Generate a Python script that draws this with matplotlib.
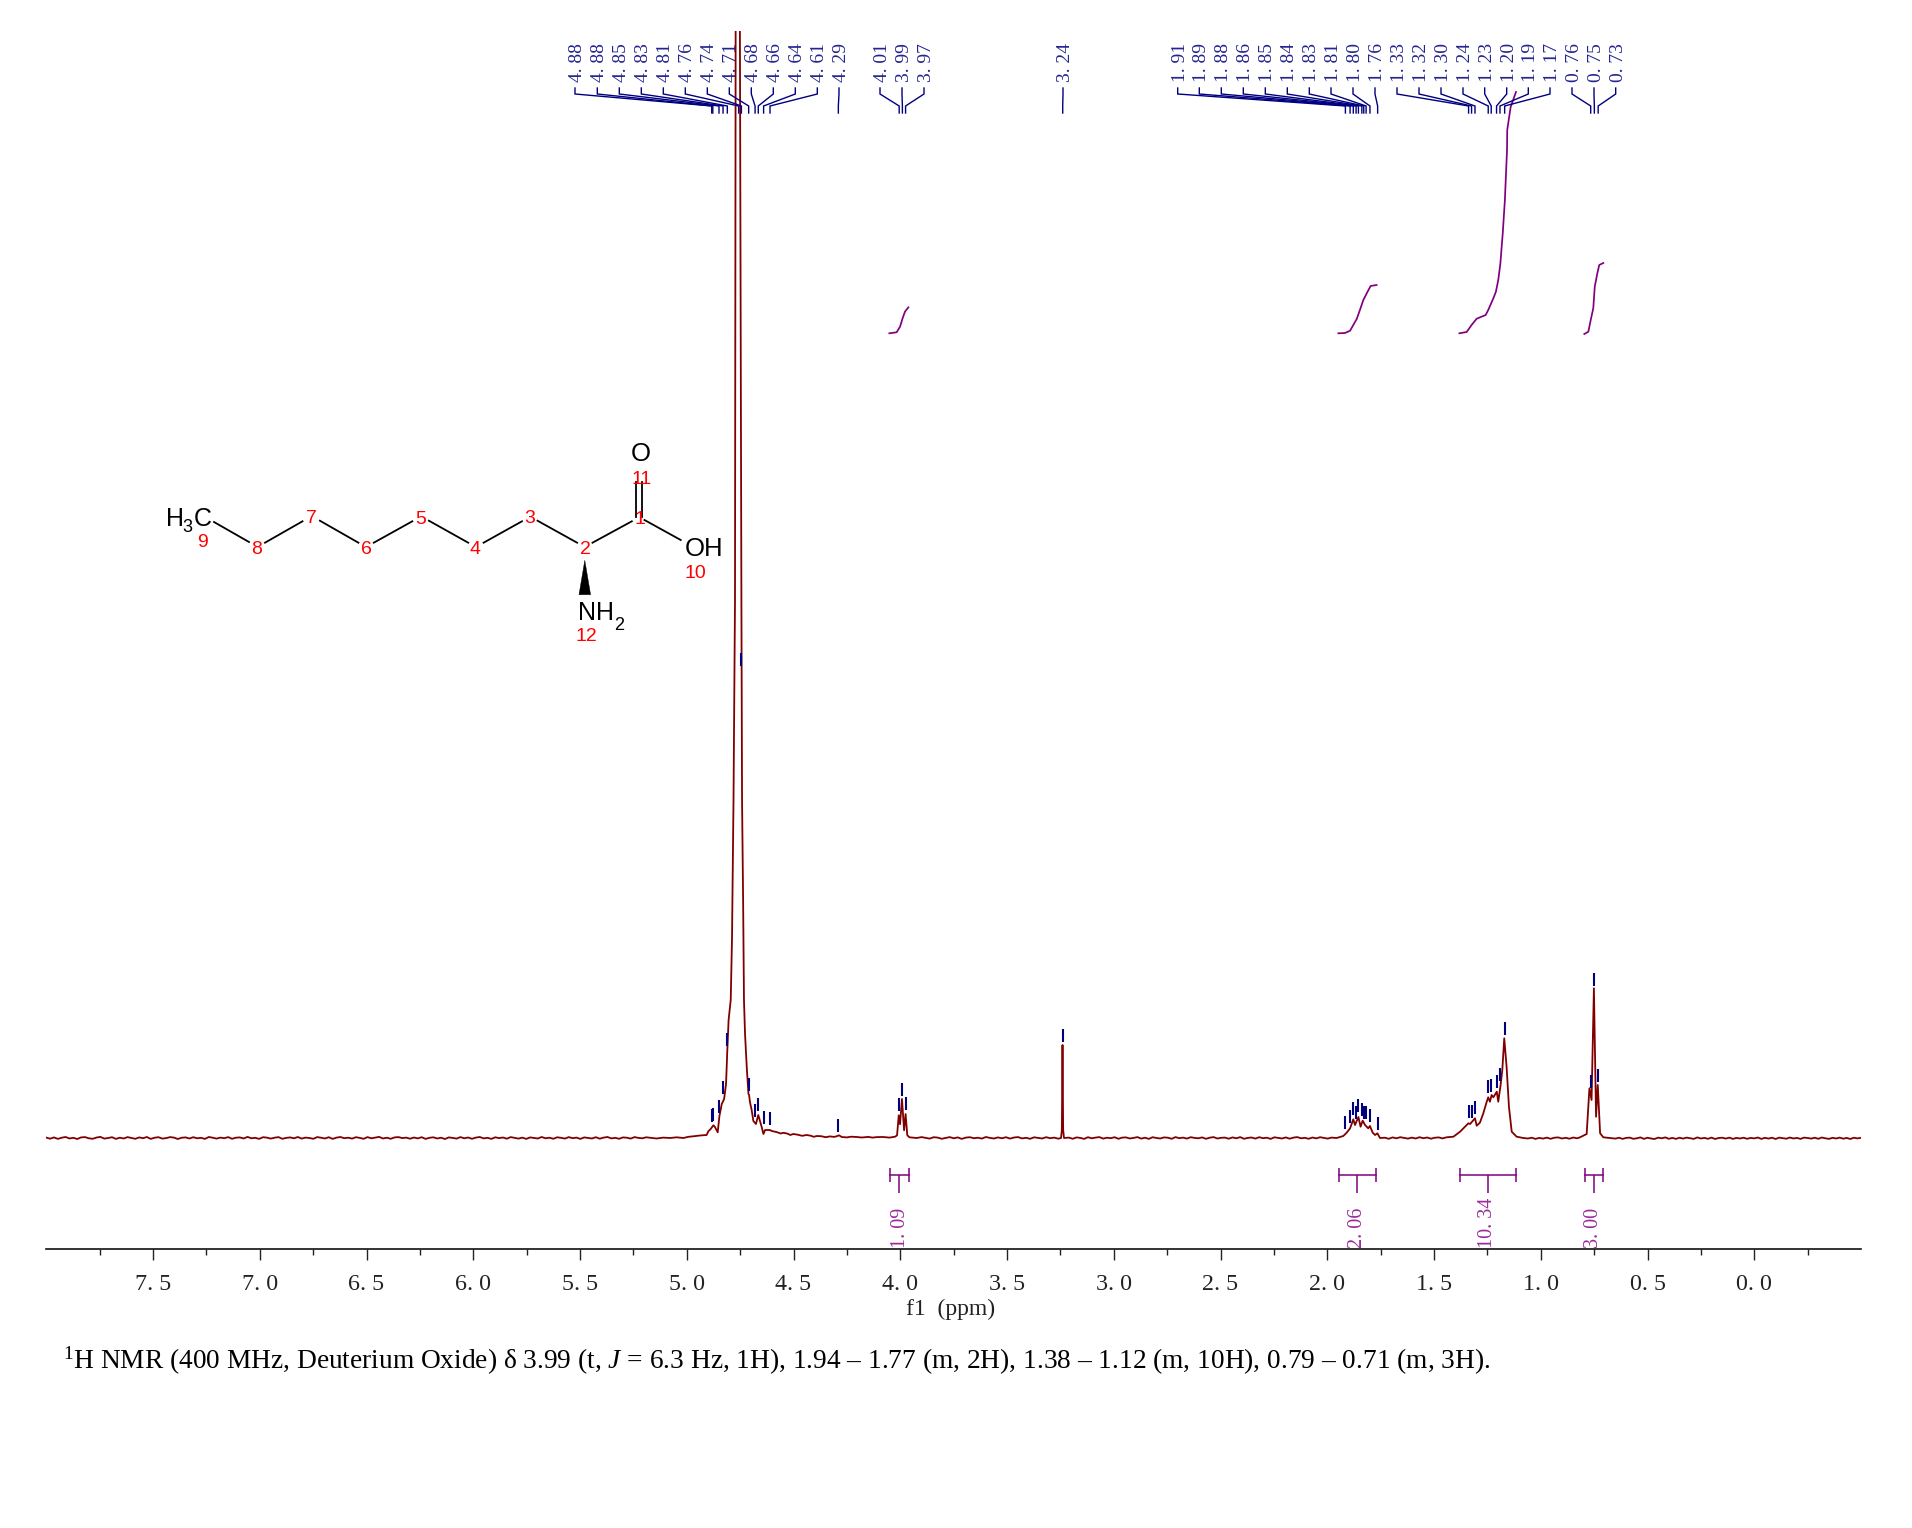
import numpy as np
import matplotlib
matplotlib.use("Agg")
import matplotlib.pyplot as plt
from matplotlib.patches import Polygon

plt.rcParams["font.family"] = ["Liberation Serif", "DejaVu Serif"]
plt.rcParams["mathtext.fontset"] = "custom"
plt.rcParams["mathtext.rm"] = "Liberation Serif"
plt.rcParams["mathtext.it"] = "Liberation Serif:italic"

# ---------- spectrum: (ppm, intensity) ----------
noise_far_left = [0.4,-0.7,0.6,-0.9,0.3,1.0,-0.5,0.2,-1.0,0.6,0.9,-0.3,-0.8,0.5,1.1,-0.6,0.0,0.8,-0.9,0.3,
                  -0.5,0.9,0.1,-0.8,0.6,-0.2,1.0,-0.9,0.3,0.8,-0.6,-0.1,0.9,0.4,-1.0,0.3,0.6,-0.5,0.8,-0.3,
                  0.2,-0.9,1.0,0.3,-0.6,0.4,-0.2,0.9,-0.8,0.3,0.6,-0.5,1.1,-0.3,0.2,-0.9,0.8,0.4,-0.6,0.3,
                  0.9,-0.8,0.1,0.6,-0.3,1.0,-0.6,0.4,0.0,-0.8,0.9,0.3,-0.5,0.8,-0.9,0.4,1.0,-0.2,0.3,-0.6,
                  0.8,0.1,-0.8,0.9,-0.3,0.4,1.1,-0.5,0.3,-0.8,0.6,0.9,-0.1,0.4,-0.7,0.5,-0.4,0.8,-0.9,0.2,
                  0.7,-0.5,0.3,-1.0,0.6,0.1,-0.6,0.9,-0.3,0.5,-0.8,0.4,1.0,-0.4,0.2,-0.9,0.7,-0.1,0.5,-0.7,
                  0.9,0.2,-0.6,0.4,-0.9,0.6,0.0,-0.5,1.0,-0.3,0.3,-0.8,0.7,0.2,-0.6,0.9,-0.2,0.4,-0.9,0.6,
                  0.1,-0.5,0.8,-0.7,0.4,1.0,-0.4,0.2,-0.8,0.6,0.3,-0.6,0.9,0.1,-0.3,0.7]
noise_mid_a = [0.9,0.2,-0.6,0.8,0.4,-0.8,0.1,0.9,-0.3,0.6,-0.9,0.4,0.8,-0.2,0.3,-0.6,1.0,0.1,-0.5,0.6,-0.3,0.8,
               -0.6,0.5,0.9,-0.4,0.2,-0.8,0.7,0.1,-0.5,0.8,-0.2,0.4,-0.7]
noise_mid_b = [0.4,-0.8,0.6,0.1,-0.9,0.8,-0.3,0.4,0.9,-0.6,0.3,-0.2,0.8,-0.8,0.4,0.6,-0.5,0.1,0.9,-0.6,
               0.3,-0.9,0.8,0.0,-0.5,0.6,0.3,-0.8,0.9,-0.2,0.4,-0.6,0.8,0.1,-0.3,0.6,-0.8,0.3,0.9,-0.5,
               0.2,0.4,-0.7,0.6,-0.3,0.9,-0.8,0.1,0.5,-0.6,0.8,-0.2,0.3,-0.9,0.7,0.1,-0.5,0.6,-0.7,0.4,
               0.9,-0.3,0.2,-0.8,0.5,-0.4,0.8,0.1,-0.6,0.4]
noise_gap_a = [0.3,-0.8,0.6,-0.3,0.8,0.1,-0.6,0.4,-0.5,0.8,-0.2,0.5,-0.7,0.3,0.6,-0.4]
noise_gap_b = [-0.5,0.3,-0.9,0.1,-0.6,0.4,-0.8,0.3,0.6,-0.5,0.2,-0.7,0.5,-0.3]
noise_right = [-0.6,0.3,-0.9,0.1,0.4,-0.8,-0.3,0.6,-0.9,0.3,-0.5,-1.0,0.4,-0.3,0.6,-0.8,0.1,-0.9,0.3,-0.6,
               0.4,-0.2,-0.9,0.6,-0.5,0.1,-0.8,0.4,-1.0,0.0,0.3,-0.6,0.4,-0.9,0.1,-0.5,0.3,-0.8,0.1,-0.4,
               0.5,-0.9,0.2,-0.6,0.3,-1.0,0.4,-0.2,-0.7,0.5,-0.5,0.1,-0.9,0.4,0.0,-0.6,0.3,-0.8,0.5,-0.3,
               -0.9,0.2,-0.5,0.4,-0.7,0.1,-1.0,0.3,-0.4,0.2]

water_ppm = [5.172,5.141,5.110,5.078,5.047,5.016,4.992,4.969,4.938,4.907,4.899,4.888,4.875,4.868,4.855,4.847,
             4.836,4.825,4.816,4.810,4.804,4.794,4.788,4.781,4.774,4.771,4.762,4.751,4.744,4.741,4.736,4.732,4.727,4.719,
             4.711,4.708,4.704,4.696,4.688,4.676,4.665,4.649,4.641,4.633,4.610,4.602,4.58,4.56,4.548,4.53,4.515,4.501,4.48,4.46,4.438,
             4.42,4.405,4.391,4.37,4.35,4.329,4.31,4.298,4.287,4.274,4.25,4.23,4.204,4.18,4.15,4.13,4.110,4.08,4.05,
             4.024,4.015,4.007,4.001,3.992,3.982,3.975,3.967,3.957,3.923]
water_int = [0.3,-0.5,0.4,0,0.7,0,1.2,1.7,2.5,3,6.7,9,12.7,11,5.7,22,
             34,39,54,88,118,138,200,338,538,1107,1500,1107,538,338,238,138,104,71,
             44,43,36,28,17,14,23,11,4,8,8,7,6,4.5,5.2,4.5,3,4,3.3,2.2,3,
             2.3,1.2,2,1.8,0.8,1.6,1.1,1.7,2.7,1,0.6,1.3,1,0.5,1.1,0.4,0.9,1,0.4,
             1.3,2.7,22.7,13.7,39,7.7,24,2.7,0.7,0]
solvent_ppm = [3.247,3.243,3.240,3.237,3.233]
solvent_int = [0,8,93,8,0]
hump_a_ppm = [1.956,1.925,1.909,1.893,1.878,1.870,1.854,1.844,1.834,1.823,1.808,1.800,1.787,1.776,1.765,1.753]
hump_a_int = [0,2,5.3,9.7,18.7,13,21,11.3,17.3,13,9.7,12,5.3,3,4.7,0]
hump_b_ppm = [1.441,1.409,1.378,1.339,1.331,1.308,1.300,1.285,1.269,1.253,1.246,1.238,1.230,1.222,1.206,1.199,
              1.188,1.180,1.171,1.160,1.149,1.136,1.113,1.082]
hump_b_int = [0.7,1.3,6.3,14.7,14,19.7,12.3,15.3,24.7,36.3,40.7,36.3,43,40.7,46.3,36.3,
              53,68,99.7,71.3,31.3,6.3,1.3,0]
methyl_ppm = [0.816,0.785,0.772,0.762,0.751,0.741,0.733,0.722,0.707,0.676]
methyl_int = [0.7,4,49.7,38,149.7,21.3,53,4.7,0.7,0]

# ---------- peak picks ----------
peak_labels = ["4. 88","4. 88","4. 85","4. 83","4. 81","4. 76","4. 74","4. 71","4. 68","4. 66","4. 64","4. 61","4. 29",
               "4. 01","3. 99","3. 97","3. 24",
               "1. 91","1. 89","1. 88","1. 86","1. 85","1. 84","1. 83","1. 81","1. 80","1. 76",
               "1. 33","1. 32","1. 30","1. 24","1. 23","1. 20","1. 19","1. 17","0. 76","0. 75","0. 73"]
peak_ppm = [4.883,4.878,4.849,4.830,4.810,4.757,4.744,4.710,4.680,4.665,4.640,4.610,4.290,
            4.005,3.990,3.975,3.239,
            1.915,1.893,1.878,1.865,1.854,1.838,1.829,1.818,1.800,1.764,
            1.338,1.324,1.308,1.246,1.232,1.207,1.191,1.169,0.766,0.749,0.731]
peak_tick_low = [16,17,25,44,92,1200,472,47,21,27,14,13,6,
                 27,42,28,96,
                 8.7,14.7,23,18.7,25.7,22.3,18.7,18.7,16.3,8,
                 20,20,24,45,46,50,57,103,50,152,56]
label_x_px = [575,597.3,619.3,641.3,663.3,685.3,707.3,729.3,751.3,773.3,795.3,817.3,839,
              880,902,924,1063,
              1177.7,1199.3,1221.3,1243.3,1265.3,1287.3,1309.3,1331,1353,1375,
              1397,1419,1441,1463,1484.7,1506.7,1528.3,1550,1572,1594,1615.7]

# ---------- integrals ----------
int_left = [4.050,1.947,1.378,0.793]
int_right = [3.959,1.772,1.117,0.707]
int_stem = [4.004,1.859,1.249,0.749]
int_text_ppm = [3.998,1.856,1.249,0.752]
int_text = ["1. 09","2. 06","10. 34","3. 00"]
curve1_ppm = [4.051,4.017,4.001,3.989,3.978,3.962]
curve1_int = [804.7,805.7,811.3,819.7,826.3,830.7]
curve2_ppm = [1.948,1.917,1.893,1.878,1.862,1.847,1.831,1.815,1.797,1.769]
curve2_int = [804.7,805,807.3,813,819,828,838,844.7,852,853]
curve3_ppm = [1.381,1.347,1.324,1.300,1.258,1.246,1.222,1.210,1.199,1.189,1.183,1.178,1.168,1.158,1.157,1.141,1.116]
curve3_int = [804.7,806,813,819.3,823,828,839.7,846.3,858,874.7,891.3,904.7,938,988,1008,1031,1046]
curve4_ppm = [0.796,0.777,0.766,0.754,0.747,0.735,0.726,0.707]
curve4_int = [804,806.3,818,829.7,851.3,864.7,873,875]

major_ticks = [7.5,7.0,6.5,6.0,5.5,5.0,4.5,4.0,3.5,3.0,2.5,2.0,1.5,1.0,0.5,0.0]
minor_ticks = [7.75,7.25,6.75,6.25,5.75,5.25,4.75,4.25,3.75,3.25,2.75,2.25,1.75,1.25,0.75,0.25,-0.25]
major_labels = ["7. 5","7. 0","6. 5","6. 0","5. 5","5. 0","4. 5","4. 0","3. 5","3. 0","2. 5","2. 0","1. 5","1. 0","0. 5","0. 0"]

caption = (r"$^{1}$H NMR (400 MHz, Deuterium Oxide) δ 3.99 (t, $\mathit{J}$ = 6.3 Hz, 1H), 1.94 – 1.77 (m, 2H), "
           r"1.38 – 1.12 (m, 10H), 0.79 – 0.71 (m, 3H).")

# ---------- structure drawing (figure pixels) ----------
struct_dx, struct_dy = -3, 2
bonds = [((217,520),(252,540)),((268,540.7),(305.5,519.3)),((322.9,518.7),(361.4,540.7)),
         ((376.8,540.7),(415.3,519.3)),((431.9,518.7),(471.2,540.7)),((486.6,540.7),(525,519.3)),
         ((540.5,518.7),(580.1,540.7)),((595.5,540.7),(634.8,519.3)),((647.5,518),(683.7,538)),
         ((639,480),(639,515)),((645.2,480),(645.2,515))]
wedge = [(587.8,558.3),(582,592.7),(593.6,592.7)]
atom_parts = [("H",169,517,18,"left","center"),("3",185.5,525,13,"left","center"),("C",197,517,18,"left","center"),
              ("O",643.7,452,18.5,"center","center"),("OH",688,547.5,18.5,"left","center"),
              ("NH",581,611.5,18,"left","center"),("2",617,623,13,"left","center")]
atom_numbers = [("9",205.5,540.7),("8",260,547.7),("7",314.4,516.7),("6",369,547.7),("5",423.8,517.3),
                ("4",478,547.7),("3",532.8,516.7),("2",588.6,547.7),("1",642.9,517.3),("11",644.4,477.3),
                ("10",698.3,571.7),("12",589.4,634.3)]

# ---------- build ----------
W, H = 1912, 1528
fig = plt.figure(figsize=(W/100, H/100), dpi=100, facecolor="white")
ax_left, ax_right, ax_top, ax_bottom = 46.25, 1861, 31, 1249
ax = fig.add_axes([ax_left/W, 1-ax_bottom/H, (ax_right-ax_left)/W, (ax_bottom-ax_top)/H])
ax.set_xlim(8.0, -0.5)
ax.set_ylim(-111, 1107)
ax.patch.set_alpha(0)

ppm = np.concatenate([np.linspace(8.0, 5.19, len(noise_far_left)), water_ppm,
                      np.linspace(3.90, 3.26, len(noise_mid_a)), solvent_ppm,
                      np.linspace(3.21, 1.98, len(noise_mid_b)), hump_a_ppm,
                      np.linspace(1.73, 1.46, len(noise_gap_a)), hump_b_ppm,
                      np.linspace(1.06, 0.83, len(noise_gap_b)), methyl_ppm,
                      np.linspace(0.65, -0.5, len(noise_right))])
intensity = np.concatenate([noise_far_left, water_int, noise_mid_a, solvent_int, noise_mid_b, hump_a_int,
                            noise_gap_a, hump_b_int, noise_gap_b, methyl_int, noise_right])
ax.plot(ppm, intensity, color="#800000", lw=1.3, solid_joinstyle="round", zorder=3)

navy = "#000080"
purple = "#800080"
low = np.array(peak_tick_low, float)
ax.vlines(peak_ppm, low, low+13, color=navy, lw=1.5, zorder=4)

for c_p, c_i in [(curve1_ppm, curve1_int), (curve2_ppm, curve2_int), (curve3_ppm, curve3_int), (curve4_ppm, curve4_int)]:
    ax.plot(c_p, c_i, color=purple, lw=1.25, zorder=2)

# bottom spine and ticks
for s in ["top", "left", "right"]:
    ax.spines[s].set_visible(False)
ax.spines["bottom"].set_linewidth(1.2)
ax.spines["bottom"].set_color("#111111")
ax.yaxis.set_visible(False)
ax.set_xticks(major_ticks)
ax.set_xticklabels(major_labels, fontsize=17.3, color="#222222")
ax.set_xticks(minor_ticks, minor=True)
ax.tick_params(axis="x", which="major", length=8, width=1.0, pad=10, color="#222222")
ax.tick_params(axis="x", which="minor", length=4.5, width=1.0, color="#222222")

# integral brackets and labels
for l, r, st, tp, tt in zip(int_left, int_right, int_stem, int_text_ppm, int_text):
    ax.plot([l, r], [-37, -37], color=purple, lw=1.1, zorder=4)
    ax.vlines([l, r], -43.7, -30.3, color=purple, lw=1.1, zorder=4)
    ax.vlines(st, -55, -37, color=purple, lw=1.1, zorder=4)
    ax.text(tp, -110, tt, rotation=90, ha="center", va="bottom", fontsize=14.5, color="#9a2c9a")

# overlay in figure pixels for leaders, labels and the structure
ov = fig.add_axes([0, 0, 1, 1])
ov.set_xlim(0, W)
ov.set_ylim(H, 0)
ov.axis("off")
ov.patch.set_alpha(0)

for lab, p, lx in zip(peak_labels, peak_ppm, label_x_px):
    px = ax.transData.transform((p, 0))[0]
    ov.plot([lx, lx, px, px], [88, 94, 106, 113], color=navy, lw=1.0, solid_joinstyle="miter")
    ov.text(lx+2.5, 82, lab, rotation=90, ha="center", va="bottom", fontsize=14, color="#24248f")

ov.text(951, 1309, "f1  (ppm)", ha="center", va="center", fontsize=17, color="#222222")
ov.text(63, 1361, caption, ha="left", va="center", fontsize=19.7, color="black")

for (a, b) in bonds:
    ov.plot([a[0]+struct_dx, b[0]+struct_dx], [a[1]+struct_dy, b[1]+struct_dy], color="black", lw=1.3)
ov.add_patch(Polygon([(x+struct_dx, y+struct_dy) for x, y in wedge], closed=True, fc="black", ec="black", lw=0.3))
for t, x, y, fs, ha, va in atom_parts:
    ov.text(x+struct_dx, y+struct_dy, t, fontsize=fs, ha=ha, va=va, family="Liberation Sans", color="black")
for t, x, y in atom_numbers:
    ov.text(x+struct_dx, y+struct_dy, t, fontsize=14, ha="center", va="center", family="Liberation Sans", color="red")

fig.savefig("out.png", dpi=100, facecolor="white")
